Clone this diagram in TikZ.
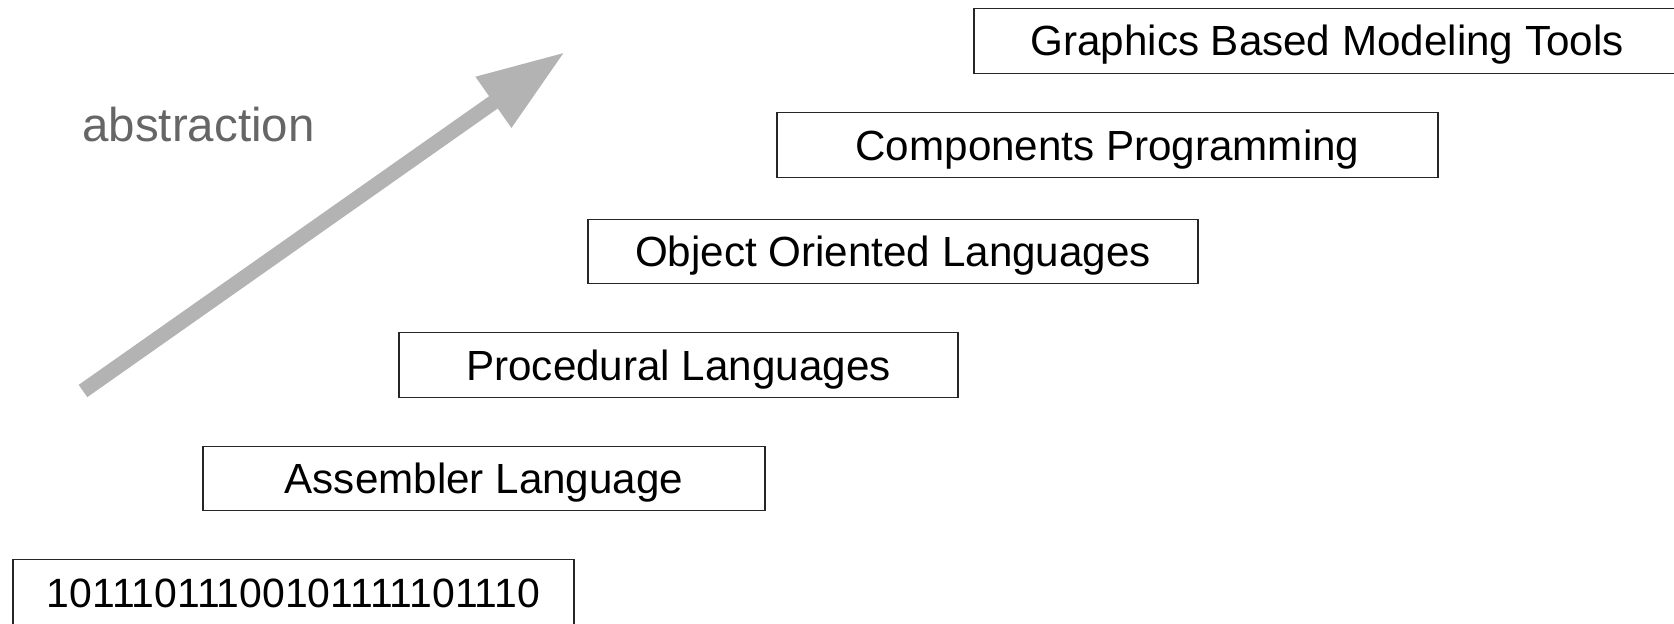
\documentclass[tikz,border=0pt]{standalone}
\usepackage{fontspec}
\setmainfont{Liberation Sans}
\usepackage{xcolor}
\usetikzlibrary{arrows.meta,positioning}
\definecolor{arrowgray}{HTML}{B3B3B3}
\definecolor{labelgray}{HTML}{666666}

\begin{document}
\begin{tikzpicture}[
  lang/.style={rectangle,draw=black!85,line width=0.6pt,minimum height=1.29cm,
    inner sep=0pt,text height=0.62cm,text depth=0.02cm,font=\fontsize{24}{28}\selectfont},
  updir/.style={-{Triangle[length=1.75cm,width=1.16cm]},line width=0.3cm,arrowgray}
]
\useasboundingbox (0,0) rectangle (33.48,12.46);
\node[lang,minimum width=11.22cm] (bin) at (5.87,0.62) {\fontsize{23.3}{27}\selectfont 10111011100101111101110};
\node[lang,minimum width=11.24cm] (asm) at (9.68,2.89) {Assembler Language};
\node[lang,minimum width=11.18cm] (proc) at (13.57,5.16) {Procedural Languages};
\node[lang,minimum width=12.2cm] (oop) at (17.86,7.43) {Object Oriented Languages};
\node[lang,minimum width=13.22cm] (comp) at (22.15,9.56) {Components Programming};
\node[lang,minimum width=14.12cm] (gfx) at (26.54,11.64) {Graphics Based Modeling Tools};
\coordinate (lo) at (1.66,4.64);
\coordinate (hi) at (11.30,11.42);
\draw[updir] (lo) -- (hi);
\node[text=labelgray,font=\fontsize{27}{32}\selectfont] (abs) at (3.97,9.96) {abstraction};
\end{tikzpicture}
\end{document}
